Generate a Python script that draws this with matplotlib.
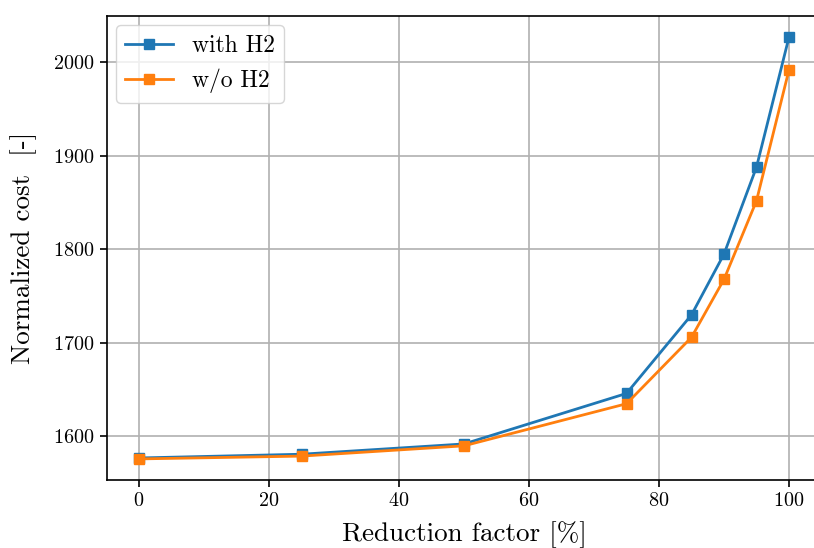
import matplotlib
matplotlib.use("Agg")
import matplotlib.pyplot as plt

plt.rcParams['font.family'] = 'serif'
plt.rcParams['font.serif'] = ['cmr10']
plt.rcParams['mathtext.fontset'] = 'cm'
plt.rcParams['axes.formatter.use_mathtext'] = True

reduction = [0, 25, 50, 75, 85, 90, 95, 100]
with_h2 = [1577, 1581, 1592, 1646, 1730, 1795, 1888, 2027]
without_h2 = [1576, 1579, 1590, 1635, 1706, 1768, 1852, 1992]

fig = plt.figure(figsize=(8.14, 5.48), dpi=100)
ax = fig.add_axes([106.5/814, 1 - 480/548, (821.5-106.5)/814, (480-16)/548])
ax.plot(reduction, with_h2, marker='s', lw=2, ms=6.5, color='#1f77b4', label='with H2')
ax.plot(reduction, without_h2, marker='s', lw=2, ms=6.5, color='#ff7f0e', label='w/o H2')
ax.set_xlim(-5, 105)
ax.grid(True, color='#b0b0b0', lw=1.2)
ax.set_xlabel('Reduction factor [%]', fontsize=19.5, labelpad=8)
ax.set_ylabel('Normalized cost  [-]', fontsize=19.5, labelpad=12)
ax.tick_params(labelsize=14.5, width=1.2, length=5)
for s in ax.spines.values():
    s.set_linewidth(1.2)
ax.legend(loc='upper left', fontsize=17, borderaxespad=0.4, handlelength=2.0)
fig.savefig('out.png', dpi=100)
